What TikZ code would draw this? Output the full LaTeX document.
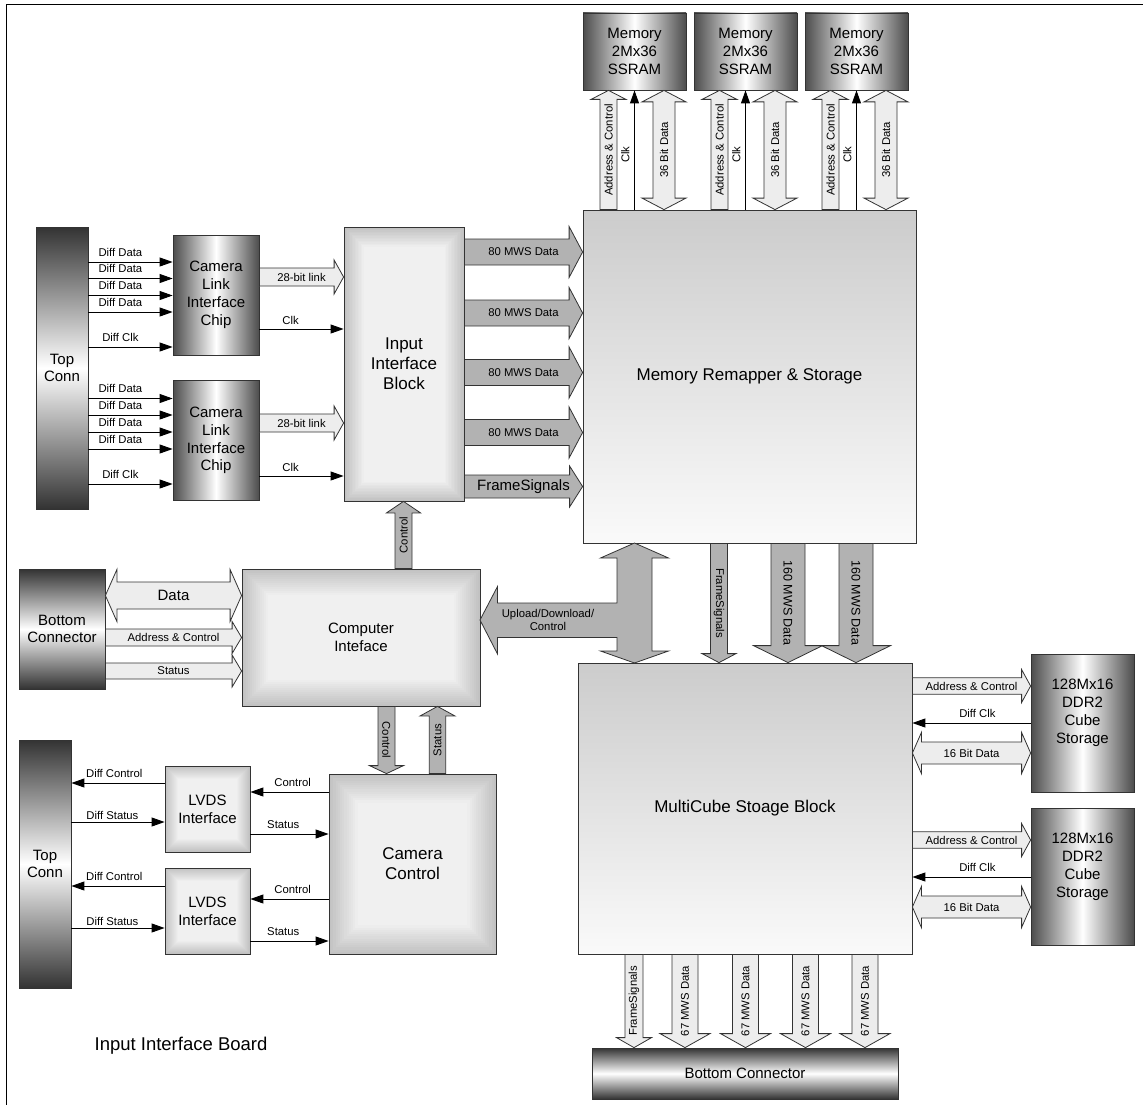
\documentclass[tikz,border=0pt]{standalone}
\usepackage{fontspec}
\setmainfont{Liberation Sans}
\usetikzlibrary{arrows.meta,calc}

\newcommand{\lblsize}{\fontsize{11.3}{13.5}\selectfont}
\newcommand{\boxsize}{\fontsize{15}{17.8}\selectfont}
\newcommand{\bigsize}{\fontsize{17}{20}\selectfont}

% block arrow: style, from, to, half shaft, half head, head length, text, text options
\newcommand{\fatarrow}[8]{%
  \coordinate (fas) at (#2);
  \coordinate (fae) at (#3);
  \coordinate (fab) at ($(fae)!#6!(fas)$);
  \filldraw[#1] ($(fas)!#4!90:(fae)$) -- ($(fab)!#4!-90:(fas)$)
    -- ($(fab)!#5!-90:(fas)$) -- (fae) -- ($(fab)!#5!90:(fas)$)
    -- ($(fab)!#4!90:(fas)$) -- ($(fas)!#4!-90:(fae)$) -- cycle;
  \node[lbl,#8] at ($(fas)!.5!(fae)$) {#7};}
% same, with a head on both ends
\newcommand{\fatdarrow}[8]{%
  \coordinate (fas) at (#2);
  \coordinate (fae) at (#3);
  \coordinate (fab) at ($(fas)!#6!(fae)$);
  \coordinate (fac) at ($(fae)!#6!(fas)$);
  \filldraw[#1] (fas) -- ($(fab)!#5!90:(fae)$) -- ($(fab)!#4!90:(fae)$)
    -- ($(fac)!#4!-90:(fas)$) -- ($(fac)!#5!-90:(fas)$) -- (fae)
    -- ($(fac)!#5!90:(fas)$) -- ($(fac)!#4!90:(fas)$)
    -- ($(fab)!#4!-90:(fae)$) -- ($(fab)!#5!-90:(fae)$) -- cycle;
  \node[lbl,#8] at ($(fas)!.5!(fae)$) {#7};}

\tikzset{
  wh/.style 2 args={minimum width=#1pt, minimum height=#2pt},
  blk/.style={draw=black!80, line width=.8pt, inner sep=0pt, align=center, font=\boxsize},
  chip/.style={blk, left color=black!70, right color=black!70, middle color=white},
  conn/.style={blk, top color=black!80, bottom color=black!80, middle color=white},
  flatbox/.style={blk, top color=black!20, bottom color=black!2, font=\bigsize},
  bevel/.style={blk, path picture={
    \foreach \k [evaluate=\k as \gv using 24-1.4*\k] in {0,...,13}
      \fill[black!\gv] ([shift={(\k*#1,\k*#1)}]path picture bounding box.south west)
        rectangle ([shift={(-\k*#1,-\k*#1)}]path picture bounding box.north east);}},
  sig/.style={line width=.9pt, -{Triangle[length=13pt,width=9pt]}},
  lbl/.style={font=\lblsize, inner sep=1pt, align=center},
  litearrow/.style={draw=black!80, line width=.8pt, fill=black!7},
  darkarrow/.style={draw=black!80, line width=.8pt, fill=black!30},
}

\begin{document}
\begin{tikzpicture}[x=1pt, y=-1pt]
\useasboundingbox (0,0) rectangle (1143,1105);
\draw[line width=1.3pt] (6.5,1105) -- (6.5,4.3) -- (1143,4.3);

% blocks
\foreach \m/\x in {mem1/634.5, mem2/745.5, mem3/856.5}
  \node[chip, wh={103}{77}] (\m) at (\x,51.5) {Memory\\2Mx36\\SSRAM};
\node[flatbox, wh={333}{333}] (remap) at (749.5,376.5) {Memory Remapper \& Storage};
\node[conn, wh={52}{282}] (topconnA) at (62,368) {Top\\Conn};
\node[chip, wh={86}{120}] (chipA) at (216,295) {Camera\\Link\\Interface\\Chip};
\node[chip, wh={86}{120}] (chipB) at (216,440.5) {Camera\\Link\\Interface\\Chip};
\node[bevel=1.5pt, wh={120}{274}, font=\bigsize] (input) at (404,364) {Input\\Interface\\Block};
\node[conn, wh={86}{120}] (botconnL) at (62,629) {Bottom\\Connector};
\node[bevel=2pt, wh={238}{137}] (comp) at (361,637.5) {Computer\\Inteface};
\node[conn, wh={52}{248}] (topconnB) at (45,864) {Top\\Conn};
\node[bevel=1pt, wh={85}{86}] (lvdsA) at (207.5,809) {LVDS\\Interface};
\node[bevel=1pt, wh={85}{86}] (lvdsB) at (207.5,911) {LVDS\\Interface};
\node[bevel=2.2pt, wh={167}{180}, font=\bigsize] (camctrl) at (412.5,864) {Camera\\Control};
\node[flatbox, wh={334}{291}] (multi) at (745,808.5) {MultiCube Stoage Block};
\node[chip, wh={103}{138}, label={[lbl, font=\fontsize{15}{18}\selectfont, yshift=10pt]center:{128Mx16\\DDR2\\Cube\\Storage}}] (ddrA) at (1082.5,723) {};
\node[chip, wh={103}{137}, label={[lbl, font=\fontsize{15}{18}\selectfont, yshift=10pt]center:{128Mx16\\DDR2\\Cube\\Storage}}] (ddrB) at (1082.5,876.5) {};
\node[conn, wh={306}{51}] (botconnB) at (745,1073.5) {Bottom Connector};
\node[font=\fontsize{18.5}{21}\selectfont] (board) at (181,1046) {Input Interface Board};

% camera link inputs
\foreach \c/\y in {chipA/262, chipA/278.5, chipA/295.5, chipA/312, chipB/398.5, chipB/415, chipB/432, chipB/449}
  \draw[sig] (topconnA.east |- 0,\y) -- node[lbl, above=4pt, pos=.38] {Diff Data} (\c.west |- 0,\y);
\foreach \c/\y in {chipA/347, chipB/484}
  \draw[sig] (topconnA.east |- 0,\y) -- node[lbl, above=4pt, pos=.38] {Diff Clk} (\c.west |- 0,\y);
\foreach \c/\y in {chipA/277, chipB/423}
  {\fatarrow{litearrow}{\c.east |- 0,\y}{input.west |- 0,\y}{9pt}{17pt}{9.5pt}{28-bit link}{}}
\foreach \c/\y in {chipA/329, chipB/476}
  \draw[sig] (\c.east |- 0,\y) -- node[lbl, above=3pt, pos=.37] {Clk} (input.west |- 0,\y);

% input block to remapper
\foreach \y in {252,313,372.5,432.5}
  {\fatarrow{darkarrow}{input.east |- 0,\y}{remap.west |- 0,\y}{13pt}{25.5pt}{13.5pt}{80 MWS Data}{}}
\fatarrow{darkarrow}{input.east |- 0,486.5}{remap.west |- 0,486.5}{11.5pt}{20.5pt}{13pt}{FrameSignals}{font=\boxsize}

% memory buses
\foreach \m/\x in {mem1/634.5, mem2/745.5, mem3/856.5} {
  \fatarrow{litearrow}{\x-26,0 |- remap.north}{\x-26,0 |- \m.south}{8.5pt}{17.5pt}{9pt}{Address \& Control}{rotate=90}
  \draw[sig] (\m.south |- remap.north) -- node[lbl, sloped, above=3.5pt, pos=.46] {Clk} (\m.south);
  \fatdarrow{litearrow}{\x+29.5,0 |- remap.north}{\x+29.5,0 |- \m.south}{11pt}{22pt}{11.5pt}{36 Bit Data}{rotate=90}
}

% upload / download
\filldraw[darkarrow] (634.5,543) -- (668.5,558) -- (652,558) -- (652,651) -- (668.5,651)
  -- (634.5,663) -- (600.5,651) -- (617,651) -- (617,637.5) -- (497.5,637.5) -- (497.5,654)
  -- (480,620) -- (497.5,586.5) -- (497.5,603) -- (617,603) -- (617,558) -- (600.5,558) -- cycle;
\node[lbl] (updn) at (548,620) {Upload/Download/\\Control};

% remapper to multicube
\fatarrow{darkarrow}{719,0 |- remap.south}{719,0 |- multi.north}{8.5pt}{17pt}{9pt}{FrameSignals}{rotate=-90}
\foreach \x in {788,856}
  {\fatarrow{darkarrow}{\x,0 |- remap.south}{\x,0 |- multi.north}{17pt}{34.5pt}{17pt}{160 MWS Data}{rotate=-90, font=\fontsize{12.5}{14}\selectfont}}

% multicube to bottom connector
\fatarrow{litearrow}{634,0 |- multi.south}{634,0 |- botconnB.north}{9pt}{17.5pt}{10pt}{FrameSignals}{rotate=90}
\foreach \x in {685,745.5,805.5,865}
  {\fatarrow{litearrow}{\x,0 |- multi.south}{\x,0 |- botconnB.north}{13pt}{25pt}{14pt}{67 MWS Data}{rotate=90}}

% bottom connector to computer interface
\fatdarrow{litearrow}{botconnL.east |- 0,595.5}{comp.west |- 0,595.5}{13.5pt}{26pt}{11.5pt}{Data}{font=\boxsize}
\fatarrow{litearrow}{botconnL.east |- 0,637.5}{comp.west |- 0,637.5}{8.5pt}{16pt}{9.5pt}{Address \& Control}{}
\fatarrow{litearrow}{botconnL.east |- 0,671}{comp.west |- 0,671}{8pt}{16pt}{9.5pt}{Status}{}

% control paths
\fatarrow{darkarrow}{403.5,0 |- comp.north}{403.5,0 |- input.south}{8.5pt}{17pt}{11.5pt}{Control}{rotate=90}
\fatarrow{darkarrow}{386.5,0 |- comp.south}{386.5,0 |- camctrl.north}{8.5pt}{17pt}{8pt}{Control}{rotate=-90}
\fatarrow{darkarrow}{437.5,0 |- camctrl.north}{437.5,0 |- comp.south}{8.2pt}{17.3pt}{9.5pt}{Status}{rotate=90}

% lvds links
\foreach \l/\ya/\yb/\yc/\yd in {lvdsA/783/822/792/834, lvdsB/886/928/899/941} {
  \draw[sig] (\l.west |- 0,\ya) -- node[lbl, above=4pt, pos=.54] {Diff Control} (topconnB.east |- 0,\ya);
  \draw[sig] (topconnB.east |- 0,\yb) -- node[lbl, above=.5pt, pos=.44] {Diff Status} (\l.west |- 0,\yb);
  \draw[sig] (camctrl.west |- 0,\yc) -- node[lbl, above=4pt, pos=.46] {Control} (\l.east |- 0,\yc);
  \draw[sig] (\l.east |- 0,\yd) -- node[lbl, above=4pt, pos=.42] {Status} (camctrl.west |- 0,\yd);
}

% ddr2 storage
\foreach \r/\y in {ddrA/686, ddrB/840} {
  \fatarrow{litearrow}{multi.east |- 0,\y}{\r.west |- 0,\y}{8.2pt}{16.5pt}{9pt}{Address \& Control}{}
  \draw[sig] (\r.west |- 0,\y+37) -- node[lbl, above=4pt, pos=.45] {Diff Clk} (multi.east |- 0,\y+37);
  \fatdarrow{litearrow}{multi.east |- 0,\y+67}{\r.west |- 0,\y+67}{11pt}{20.5pt}{9pt}{16 Bit Data}{}
}
\end{tikzpicture}
\end{document}
